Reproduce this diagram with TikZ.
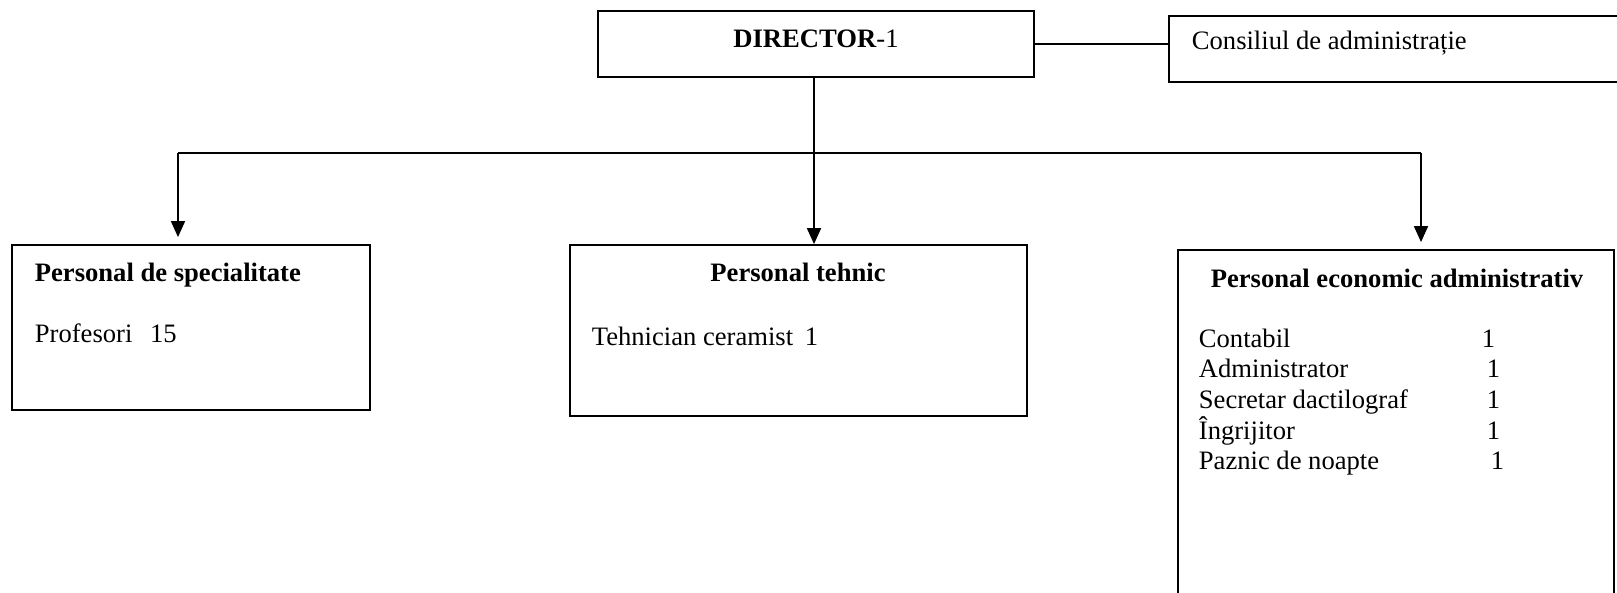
\documentclass[tikz,border=0pt]{standalone}
\usepackage{fontspec}
\setmainfont{Liberation Serif}
\usetikzlibrary{arrows.meta}

\begin{document}
\begin{tikzpicture}[x=0.5pt, y=-0.5pt,
                box/.style={draw, rectangle, line width=0.9pt, inner sep=0pt},
                txt/.style={anchor=base west, inner sep=0pt, font=\fontsize{13.3}{15}\selectfont},
                title/.style={txt, font=\fontsize{13.3}{15}\selectfont\bfseries},
                line width=0.9pt, >={Triangle[length=8pt, width=7pt]}
            ]

            \useasboundingbox (0,0) rectangle (1617,593);
            \clip (0,0) rectangle (1617,593);

            % Boxes
            \node[box, minimum width=218pt, minimum height=33pt] (director) at (816, 44) {};
            \node[box, minimum width=240pt, minimum height=33pt] (consiliu) at (1409, 49) {};
            \node[box, minimum width=179pt, minimum height=82.5pt] (spec) at (191, 327.5) {};
            \node[box, minimum width=228.5pt, minimum height=85.5pt] (tehnic) at (798.5, 330.5) {};
            \node[box, minimum width=218pt, minimum height=200pt] (econ) at (1396, 450) {};

            % Texts
            \node[txt, anchor=base] (director-txt) at (816, 48) {\textbf{DIRECTOR}-1};
            \node[txt] (consiliu-txt) at (1191, 50) {Consiliul de administrație};
            \node[title] (spec-title) at (34, 282) {Personal de specialitate};
            \node[txt] (spec-txt) at (34, 343) {Profesori\hspace{5.5pt} 15};
            \node[title, anchor=base] (tehnic-title) at (798, 282) {Personal tehnic};
            \node[txt] (tehnic-txt) at (591, 345) {Tehnician ceramist\hspace{2.5pt} 1};
            \node[title, anchor=base] (econ-title) at (1397, 287) {Personal economic administrativ};
            \node[txt, anchor=base west] (econ-txt) at (1198, 348) {%
                \begin{tabular}[t]{@{}p{141.5pt}@{}l@{}}
                Contabil & 1 \\
                Administrator & \hspace{2.5pt}1 \\
                Secretar dactilograf & \hspace{2.5pt}1 \\
                Îngrijitor & \hspace{2.5pt}1 \\
                Paznic de noapte & \hspace{4.5pt}1
                \end{tabular}};

            % Connectors
            \coordinate (busL) at (178, 153);
            \coordinate (busM) at (814, 153);
            \coordinate (busR) at (1421, 153);
            \draw (director.east) -- (director.east -| consiliu.west);
            \draw (busM |- director.south) -- (busM);
            \draw (busL) -- (busR);
            \draw[->, shorten >=3.5pt] (busL) -- (busL |- spec.north);
            \draw[->] (busM) -- (busM |- tehnic.north);
            \draw[->, shorten >=3.5pt] (busR) -- (busR |- econ.north);

        \end{tikzpicture}
\end{document}
